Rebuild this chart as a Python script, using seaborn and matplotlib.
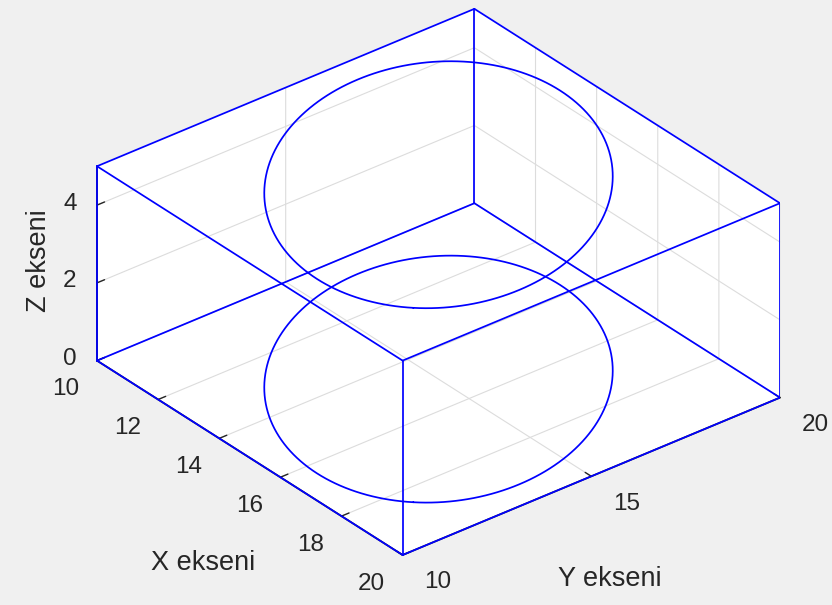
import numpy as np
import matplotlib
matplotlib.use("Agg")
import matplotlib.pyplot as plt
import seaborn as sns
from mpl_toolkits.mplot3d import proj3d

# ---- data -------------------------------------------------------------
box_x = [10, 20]          # cuboid extent along X
box_y = [10, 20]          # cuboid extent along Y
box_z = [0, 5]            # cuboid extent along Z

ring_center = [15, 15]    # centre of both rings (x, y)
ring_levels = [0, 5]      # heights of the two rings
ring_radii = [4.95, 3.57] # semi-axes of the rings
ring_tilt_deg = -45       # direction of the long semi-axis in the x-y plane

x_ticks = [10, 12, 14, 16, 18, 20]
y_ticks = [10, 15, 20]
z_ticks = [0, 2, 4]

# ---- style ------------------------------------------------------------
sns.set_theme(style="white")
plt.rcParams["font.family"] = ["Liberation Sans", "DejaVu Sans"]
plt.rcParams["grid.color"] = "#dcdcdc"
plt.rcParams["grid.linewidth"] = 0.8
plt.rcParams["grid.linestyle"] = "-"

line_color = sns.color_palette(["#0000ff"])[0]
ink = "#262626"
bg = "#f0f0f0"

fig = plt.figure(figsize=(8.32, 6.05), dpi=100, facecolor=bg)
ax = fig.add_axes([0, 0, 1, 1], projection="3d", proj_type="ortho")
ax.set_facecolor(bg)
ax.view_init(elev=31, azim=-39)
ax.set_box_aspect((1, 1, 0.467))

# cuboid wireframe: every edge joins two corners differing in one coordinate
corners = [(x, y, z) for x in box_x for y in box_y for z in box_z]
for i, a in enumerate(corners):
    for b in corners[i + 1:]:
        if sum(p != q for p, q in zip(a, b)) == 1:
            ax.plot([a[0], b[0]], [a[1], b[1]], [a[2], b[2]],
                    color=line_color, lw=1.25)

# rings
t = np.linspace(0, 2 * np.pi, 361)
phi = np.deg2rad(ring_tilt_deg)
u = ring_radii[0] * np.cos(t)
v = ring_radii[1] * np.sin(t)
rx = ring_center[0] + u * np.cos(phi) - v * np.sin(phi)
ry = ring_center[1] + u * np.sin(phi) + v * np.cos(phi)
for zl in ring_levels:
    ax.plot(rx, ry, np.full_like(rx, zl), color=line_color, lw=1.25)

ax.set_xlim(box_x)
ax.set_ylim(box_y)
ax.set_zlim(box_z)
ax.set_xticks(x_ticks)
ax.set_yticks(y_ticks)
ax.set_zticks(z_ticks)

# vertical axis on the near-left edge
ax.zaxis.set_ticks_position("lower")
ax.zaxis.set_label_position("lower")

for axis in (ax.xaxis, ax.yaxis, ax.zaxis):
    axis.set_pane_color((1, 1, 1, 1))
    axis.pane.set_edgecolor((1, 1, 1, 1))
    axis.line.set_color(ink)
    axis.line.set_linewidth(1.3)
    axis._axinfo["tick"]["inward_factor"] = 0.0
    axis._axinfo["tick"]["outward_factor"] = 0.25
    axis._axinfo["tick"]["linewidth"] = {True: 1.0, False: 0.5}
    axis._axinfo["grid"]["color"] = "#dcdcdc"
    axis._axinfo["grid"]["linewidth"] = 0.8
    axis.set_rotate_label(False)

ax.tick_params(axis="x", labelsize=17.5, colors=ink, pad=13.5)
ax.tick_params(axis="y", labelsize=17.5, colors=ink, pad=10.5)
ax.tick_params(axis="z", labelsize=17.5, colors=ink, pad=2.5)

for lbl in ax.xaxis.get_ticklabels():
    lbl.set_ha("center")
    lbl.set_va("center")
for lbl in ax.yaxis.get_ticklabels():
    lbl.set_ha("left")
    lbl.set_va("center")
for lbl in ax.zaxis.get_ticklabels():
    lbl.set_ha("center")
    lbl.set_va("center")

ax.set_xlabel("X ekseni", fontsize=19.5, color=ink, labelpad=48)
ax.set_ylabel("Y ekseni", fontsize=19.5, color=ink, labelpad=39.5)
ax.set_zlabel("Z ekseni", fontsize=19.5, color=ink, rotation=90, labelpad=1.2)
ax.xaxis._axinfo["label"].update(ha="left", va="top")
ax.yaxis._axinfo["label"].update(ha="right", va="top")
ax.zaxis._axinfo["label"].update(ha="center", va="center")


def place_plot_box(left, right, bottom):
    """Scale and shift the 3D axes so the cuboid outline spans [left, right]
    horizontally and starts at `bottom` (figure pixels)."""
    fig.canvas.draw()
    cx, cy, cz = np.array(corners, dtype=float).T
    px, py, _ = proj3d.proj_transform(cx, cy, cz, ax.M)
    pts = ax.transData.transform(np.column_stack([px, py]))
    W, H = fig.bbox.width, fig.bbox.height
    pos = ax.get_position()
    ox, oy = pos.x0 * W, pos.y0 * H
    sw, sh = pos.width * W, pos.height * H
    s = (right - left) / (pts[:, 0].max() - pts[:, 0].min())
    nox = left - s * (pts[:, 0].min() - ox)
    noy = bottom - s * (pts[:, 1].min() - oy)
    ax.set_position([nox / W, noy / H, s * sw / W, s * sh / H])


place_plot_box(97, 780, 50)

fig.savefig("out.png", dpi=100, facecolor=bg)
